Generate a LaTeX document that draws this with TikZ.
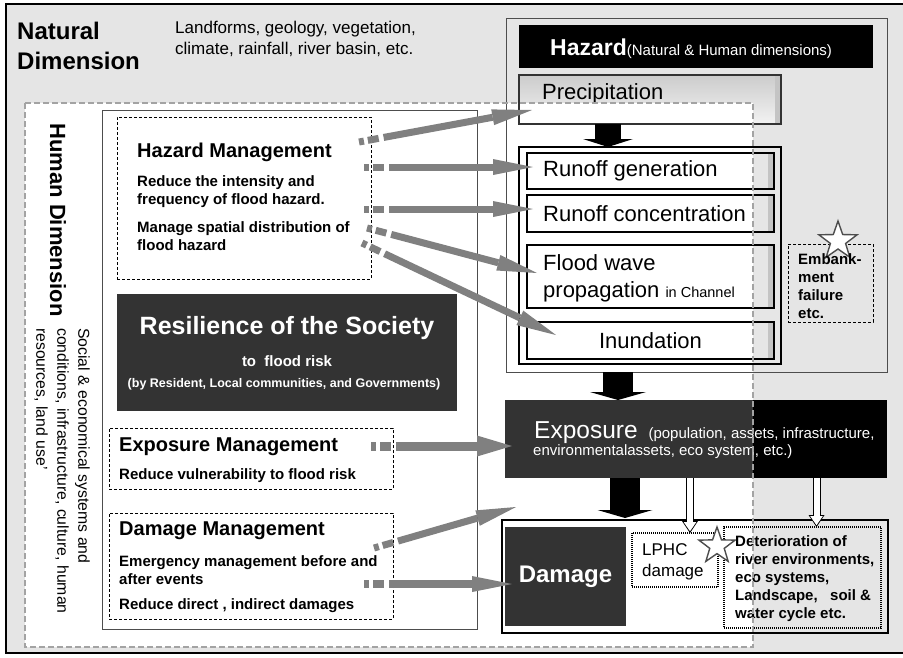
\documentclass[tikz,border=0pt]{standalone}
\usepackage{fontspec}
\setmainfont{Liberation Sans}
\usetikzlibrary{
  arrows.meta,
  positioning,
  calc,
  fit,
  shapes.geometric,
}
\definecolor{panelgray}{HTML}{E5E5E5}
\definecolor{darkbox}{HTML}{333333}
\definecolor{arrowgray}{HTML}{808080}
\definecolor{humanline}{HTML}{A3A3A3}
\definecolor{rimgray}{HTML}{4D4D4D}
\definecolor{stripgray}{HTML}{E6E6E6}
\definecolor{edgegray}{HTML}{C4C4C4}
\tikzset{
  boxed/.style={inner sep=0pt, outer sep=0pt},
  mgmtbox/.style={boxed, draw=black, line width=0.9pt, dash pattern=on 3pt off 2pt},
  dotbox/.style={boxed, draw=black, line width=1.1pt, dash pattern=on 1pt off 1pt},
  precipbox/.style={
    boxed, draw=darkbox, line width=1.2pt, fill=white,
    path picture={
      \shade[top color=black!20, bottom color=black!5]
        (path picture bounding box.south west) rectangle (path picture bounding box.north east);
      \fill[white] (path picture bounding box.south west) rectangle (cut);
      \fill[edgegray] ([xshift=-6pt]path picture bounding box.north east) rectangle (path picture bounding box.south east);
    },
  },
  procbox/.style={
    boxed, draw=black, line width=1.4pt, fill=white,
    path picture={
      \fill[stripgray] (cut |- path picture bounding box.north) rectangle (path picture bounding box.south east);
    },
  },
  stepbox/.style={
    boxed, draw=black, line width=1.2pt, fill=white,
    path picture={
      \fill[stripgray] (cut |- path picture bounding box.north) rectangle (path picture bounding box.south east);
      \fill[edgegray] ([xshift=-6pt]path picture bounding box.north east) rectangle (path picture bounding box.south east);
    },
  },
  starmark/.style={
    star, star points=5, star point ratio=2.5, minimum size=#1,
    draw=rimgray, line width=1.4pt, fill=white, inner sep=0pt,
  },
  bigtitle/.style={font=\fontsize{24}{30}\selectfont\bfseries, align=left, inner sep=0pt},
  listtext/.style={font=\fontsize{17}{21}\selectfont, align=left, inner sep=0pt},
  mgmttitle/.style={font=\fontsize{20}{24}\selectfont\bfseries, inner sep=0pt},
  mgmtbody/.style={font=\fontsize{15}{18}\selectfont\bfseries, align=left, inner sep=0pt},
  steptext/.style={font=\fontsize{22}{27}\selectfont, align=left, inner sep=0pt},
  grayarrow/.style={
    draw=arrowgray, line width=7pt,
    dash pattern=on 5pt off 4pt on 11pt off 5pt on 1000pt off 0pt,
    -{Triangle[length=40pt, width=16pt, line width=0pt]},
  },
  blockarrow/.style 2 args={draw=black, line width=#1, -{Triangle[length=8pt, width=#2, line width=0pt]}},
  hollowout/.style={draw=black, line width=8pt, -{Triangle[length=12pt, width=16pt, line width=0pt]}},
  hollowin/.style={draw=white, line width=6pt, shorten >=1.8pt, -{Triangle[length=9pt, width=12.5pt, line width=0pt]}},
}

\begin{document}
\begin{tikzpicture}[x=1pt, y=-1pt]
  \useasboundingbox (0,0) rectangle (903,657);
  \coordinate (cut) at (753,103);

  % panel and the human dimension field
  \fill[white] (0,0) rectangle (903,657);
  \fill[panelgray] (6,4) rectangle (903,653);
  \draw[line width=2pt] (903,4) -- (6,4) -- (6,653) -- (903,653);
  \node[boxed, fill=white, fit={(25,103) (753,647)}] (human) {};

  \node[bigtitle, anchor=west] (natdim) at (17,46) {Natural\\Dimension};
  \node[listtext, anchor=west] (natlist) at (175,38.5) {Landforms, geology, vegetation,\\climate, rainfall, river basin, etc.};

  % hazard column
  \node[boxed, draw=rimgray, line width=1pt, fit={(506,18) (887,372)}] (hazbox) {};
  \node[boxed, fill=black, fit={(519,25) (873,68)}] (hazhead) {};
  \node[anchor=base west, inner sep=0pt, text=white] (hazlabel) at (550,55)
    {\fontsize{23}{27}\selectfont\bfseries Hazard\fontsize{15}{18}\selectfont\mdseries(Natural \& Human dimensions)};

  \node[precipbox, fit={(519,75) (781,124)}] (precip) {};
  \node[steptext, anchor=west] (preciptext) at (542,94) {Precipitation};

  \node[procbox, fit={(519,147) (781,364)}] (proc) {};
  \node[stepbox, fit={(527,153) (774,189)}] (rgen) {};
  \node[stepbox, fit={(527,195) (774,232)}] (rcon) {};
  \node[stepbox, fit={(527,245) (774,308)}] (flood) {};
  \node[stepbox, fit={(527,322) (774,359)}] (inund) {};
  \node[steptext, anchor=west] (rgentext) at (543,171) {Runoff generation};
  \node[steptext, anchor=west] (rcontext) at (543,214) {Runoff concentration};
  \node[steptext, anchor=west] (floodtext) at (543,278.5)
    {Flood wave\\propagation {\fontsize{14.5}{16}\selectfont in Channel}};
  \node[steptext] (inundtext) at (inund.center) {Inundation};

  \node[mgmtbox, fit={(788,244) (873,322)}] (embank) {};
  \node[starmark=40pt] (embankstar) at (838,241) {};
  \node[mgmtbody, anchor=west] (embanktext) at (798,286) {Embank-\\ment\\failure\\etc.};

  \draw[blockarrow={26pt}{50pt}] ([xshift=-42pt]precip.south) -- ([xshift=-42pt]precip.south |- proc.north);

  % management panel
  \node[boxed, draw=rimgray, line width=1pt, fit={(102,110) (477,629)}] (mgmtpanel) {};

  \node[mgmtbox, fit={(117,117) (371,279)}] (hazmgmt) {};
  \node[mgmttitle, anchor=west] (hazmgmttitle) at (137,152) {Hazard Management};
  \node[mgmtbody, anchor=west] (hazmgmtone) at (137,191.5) {Reduce the intensity and\\frequency of flood hazard.};
  \node[mgmtbody, anchor=west] (hazmgmttwo) at (137,236) {Manage spatial distribution of\\flood hazard};

  \node[boxed, fill=darkbox, fit={(117,294) (457,411)}] (resil) {};
  \node[inner sep=0pt, text=white, font=\fontsize{25}{29}\selectfont\bfseries] (resiltitle) at (287,328) {Resilience of the Society};
  \node[inner sep=0pt, text=white, font=\fontsize{15}{18}\selectfont\bfseries] (resilsub) at (287,361) {to\ \ flood risk};
  \node[inner sep=0pt, text=white, font=\fontsize{12.5}{15}\selectfont\bfseries] (resilby) at (284,384) {(by Resident, Local communities, and Governments)};

  \node[mgmtbox, fit={(109,428) (393,489)}] (expmgmt) {};
  \node[mgmttitle, anchor=west] (expmgmttitle) at (119,447) {Exposure Management};
  \node[mgmtbody, anchor=west] (expmgmtone) at (119,476) {Reduce vulnerability to flood risk};

  \node[mgmtbox, fit={(109,513) (393,619)}] (dammgmt) {};
  \node[mgmttitle, anchor=west] (dammgmttitle) at (119,531) {Damage Management};
  \node[mgmtbody, anchor=west] (dammgmtone) at (119,570) {Emergency management before and\\after events};
  \node[mgmtbody, anchor=west] (dammgmttwo) at (119,606) {Reduce direct , indirect damages};

  \node[rotate=-90, inner sep=0pt, font=\fontsize{22}{26}\selectfont\bfseries] (humdim) at (58,220) {Human Dimension};
  \node[rotate=-90, anchor=west, align=left, inner sep=0pt, font=\fontsize{15.8}{21}\selectfont] (humlist) at (62,328)
    {Social \& economical systems and\\conditions, infrastructure, culture, human\\resources, land use'};

  % exposure and damage
  \node[boxed, fill=black, fit={(505,400) (887,478)},
    path picture={\fill[darkbox] (path picture bounding box.north west) rectangle (cut |- path picture bounding box.south);}] (expo) {};
  \node[anchor=base west, inner sep=0pt, text=white] (expotext) at (534,438)
    {\fontsize{24.5}{28}\selectfont Exposure\hspace{4pt} \fontsize{15}{18}\selectfont(population, assets, infrastructure,};
  \node[anchor=base west, inner sep=0pt, text=white, font=\fontsize{15}{18}\selectfont] (expomore) at (533,455)
    {environmentalassets, eco system, etc.)};

  \node[boxed, draw=black, line width=2.5pt, fit={(502,520) (888,633)}] (damout) {};
  \node[boxed, fill=darkbox, fit={(505,527) (626,626)}] (damage) {};
  \node[inner sep=0pt, text=white, font=\fontsize{24}{28}\selectfont\bfseries] (damagetext) at (damage.center) {Damage};

  \node[dotbox, fit={(632,533) (718,587)}] (lphc) {};
  \node[listtext, anchor=west] (lphctext) at (642,561.5) {LPHC\\damage};
  \node[dotbox, fit={(724,527) (881,628)}] (detbox) {};
  \node[starmark=38pt] (detstar) at (717,546) {};
  \node[mgmtbody, anchor=west] (dettext) at (735,578.5)
    {Deterioration of\\river environments,\\eco systems,\\Landscape,\ \ \ soil \&\\water cycle etc.};

  \draw[blockarrow={30pt}{56pt}] ([xshift=-78.5pt]hazbox.south) -- ([xshift=-78.5pt]hazbox.south |- expo.north);
  \draw[blockarrow={30pt}{55pt}, shorten >=2pt] ([xshift=-71pt]expo.south) -- ([xshift=-71pt]expo.south |- damout.north);

  \draw[hollowout] ([xshift=-6pt]expo.south) -- ([xshift=-6pt]expo.south |- lphc.north);
  \draw[hollowin] ([xshift=-6pt]expo.south) -- ([xshift=-6pt]expo.south |- lphc.north);
  \draw[hollowout] ([xshift=120.5pt]expo.south) -- ([xshift=120.5pt]expo.south |- detbox.north);
  \draw[hollowin] ([xshift=120.5pt]expo.south) -- ([xshift=120.5pt]expo.south |- detbox.north);

  % management arrows
  \coordinate (hm1) at (359,142);
  \coordinate (hm2) at (364,167);
  \coordinate (hm3) at (364,209);
  \coordinate (hm4) at (367,228);
  \coordinate (hm5) at (362,243);
  \coordinate (em1) at (371,446);
  \coordinate (dm1) at (374,548);
  \coordinate (dm2) at (364,584);
  \draw[grayarrow] (hm1) -- ($(precip.west)+(13,10.5)$);
  \draw[grayarrow] (hm2) -- ($(rgen.west)+(6,-4)$);
  \draw[grayarrow] (hm3) -- ($(rcon.west)+(6,-4.5)$);
  \draw[grayarrow] (hm4) -- ($(flood.west)+(10,-3.5)$);
  \draw[grayarrow] (hm5) -- ($(inund.west)+(29,-5.5)$);
  \draw[grayarrow, line width=9pt, -{Triangle[length=35pt, width=21pt, line width=0pt]}] (em1) -- ($(expo.west)+(7,7)$);
  \draw[grayarrow] (dm1) -- ($(damout.north west)+(14,-13)$);
  \draw[grayarrow, line width=8pt] (dm2) -- ($(damage.west)+(7,7.5)$);

  % edge of the human dimension on top
  \draw[draw=humanline, line width=1.5pt, dash pattern=on 6pt off 3pt] (human.north west) rectangle (human.south east);
\end{tikzpicture}
\end{document}
